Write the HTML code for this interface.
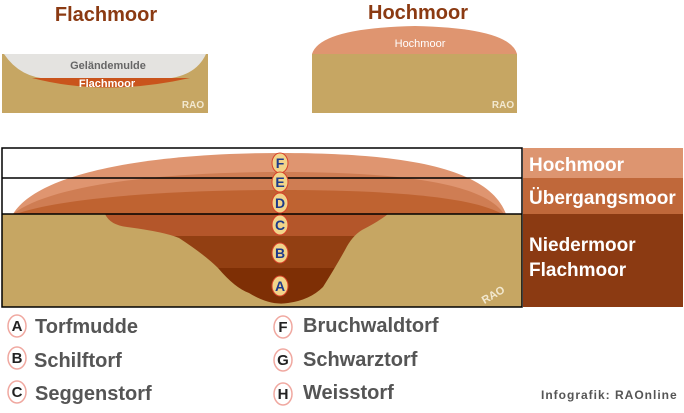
<!DOCTYPE html>
<html><head><meta charset="utf-8"><style>
html,body{margin:0;padding:0;background:#fff;}
svg{display:block;font-family:"Liberation Sans",sans-serif;}
</style></head><body>
<svg width="684" height="413" viewBox="0 0 684 413" xmlns="http://www.w3.org/2000/svg">
<!-- Titles -->
<text x="106" y="21" font-size="20" font-weight="bold" fill="#8b3a12" text-anchor="middle">Flachmoor</text>
<text x="418" y="19" font-size="20" font-weight="bold" fill="#8b3a12" text-anchor="middle">Hochmoor</text>
<!-- Flachmoor box -->
<rect x="2" y="54" width="206" height="59" fill="#c6a663"/>
<path d="M4 54 Q20 78 50 79 L160 79 Q195 78 206 54 Z" fill="#e4e3e0"/>
<path d="M32 78 Q105 97 190 78 Z" fill="#c9541c"/>
<text x="108" y="69" font-size="11" font-weight="bold" fill="#666" text-anchor="middle">Geländemulde</text>
<text x="107" y="87" font-size="11" font-weight="bold" fill="#fff" text-anchor="middle">Flachmoor</text>
<text x="193" y="108" font-size="10" font-weight="bold" fill="#f2e8cf" text-anchor="middle">RAO</text>
<!-- Hochmoor box -->
<rect x="312" y="54" width="205" height="59" fill="#c6a663"/>
<path d="M312 54 Q320 28 415 26 Q510 28 517 54 Z" fill="#df9570"/>
<text x="420" y="47" font-size="11" fill="#fff" text-anchor="middle">Hochmoor</text>
<text x="503" y="108" font-size="10" font-weight="bold" fill="#f2e8cf" text-anchor="middle">RAO</text>
<!-- Main diagram -->
<rect x="2" y="214" width="520" height="93" fill="#c6a663"/>
<path d="M13 214 C40 170 160 153 280 153 C420 153 490 172 506 214 Z" fill="#df9570"/>
<path d="M13 214 C50 185 160 172 280 172 C410 172 485 185 504 214 Z" fill="#cf7d53"/>
<path d="M16 214 C60 198 170 190 280 190 C400 190 475 198 502 214 Z" fill="#bf6331"/>
<clipPath id="fn"><path d="M105 214 Q110 225 127 227 Q165 232 179 238 Q205 255 218 268 Q235 288 249 293 Q270 306 288 303 Q310 300 323 287 Q335 268 345 250 Q352 236 362 230 Q378 222 388 214 Z"/></clipPath>
<g clip-path="url(#fn)">
<rect x="100" y="214" width="300" height="22" fill="#b4562a"/>
<rect x="100" y="236" width="300" height="32" fill="#923f12"/>
<rect x="100" y="268" width="300" height="45" fill="#7e2f05"/>
</g>
<text x="495" y="298" font-size="11" font-weight="bold" fill="#f2e8cf" text-anchor="middle" transform="rotate(-30 495 298)">RAO</text>
<rect x="2" y="148" width="520" height="159" fill="none" stroke="#000" stroke-width="1.5"/>
<line x1="2" y1="178" x2="522" y2="178" stroke="#000" stroke-width="1.5"/>
<line x1="2" y1="214" x2="522" y2="214" stroke="#000" stroke-width="1.5"/>
<rect x="523" y="148" width="160" height="30" fill="#dd9570"/>
<rect x="523" y="178" width="160" height="36" fill="#c0683a"/>
<rect x="523" y="214" width="160" height="93" fill="#8b3a12"/>
<g font-size="19" font-weight="bold" fill="#fff">
<text x="529" y="171">Hochmoor</text>
<text x="529" y="204">Übergangsmoor</text>
<text x="529" y="251">Niedermoor</text>
<text x="529" y="276">Flachmoor</text>
</g>
<g font-size="14" font-weight="bold" fill="#1d3a8a" text-anchor="middle">
<g stroke="#d8402a" stroke-width="1" fill="#f2d48a">
<ellipse cx="280" cy="163" rx="8" ry="10"/><ellipse cx="280" cy="182" rx="8" ry="10"/><ellipse cx="280" cy="203" rx="8" ry="10"/>
<ellipse cx="280" cy="225" rx="8" ry="10"/><ellipse cx="280" cy="253" rx="8" ry="10"/><ellipse cx="280" cy="286" rx="8" ry="10"/>
</g>
<text x="280" y="168">F</text><text x="280" y="187">E</text><text x="280" y="208">D</text>
<text x="280" y="230">C</text><text x="280" y="258">B</text><text x="280" y="291">A</text>
</g>
<!-- Legend -->
<g stroke="#f0a8a0" stroke-width="1.5" fill="#fff">
<ellipse cx="17" cy="326" rx="9" ry="11"/><ellipse cx="17" cy="358" rx="9" ry="11"/><ellipse cx="17" cy="392" rx="9" ry="11"/>
<ellipse cx="283" cy="327" rx="9" ry="11"/><ellipse cx="283" cy="360" rx="9" ry="11"/><ellipse cx="283" cy="394" rx="9" ry="11"/>
</g>
<g font-size="15" font-weight="bold" fill="#222" text-anchor="middle">
<text x="17" y="331">A</text><text x="17" y="363">B</text><text x="17" y="397">C</text>
<text x="283" y="332">F</text><text x="283" y="365">G</text><text x="283" y="399">H</text>
</g>
<g font-size="20" font-weight="bold" fill="#555">
<text x="35" y="333">Torfmudde</text><text x="34" y="367">Schilftorf</text><text x="35" y="400">Seggenstorf</text>
<text x="303" y="332">Bruchwaldtorf</text><text x="303" y="366">Schwarztorf</text><text x="303" y="399">Weisstorf</text>
</g>
<text x="541" y="399" font-size="12" font-weight="bold" fill="#555" letter-spacing="1">Infografik: RAOnline</text>
</svg>
</body></html>
